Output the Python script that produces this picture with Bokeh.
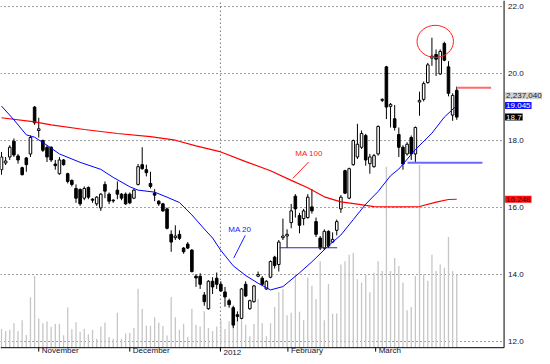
from bokeh.plotting import figure
from bokeh.models import Range1d, Label, ColumnDataSource
from bokeh.embed import file_html
from bokeh.resources import INLINE

# ---------------- data ----------------
opens = [17.13, 17.33, 17.51, 17.98, 17.54, 17.19, 17.48, 17.60, 19.00, 18.30,
         18.00, 17.80, 17.80, 17.30, 17.01, 17.42, 17.01, 16.81, 16.57, 16.54,
         16.28, 16.60, 16.25, 16.11, 15.99, 16.69, 16.40, 16.22, 16.52, 16.40,
         16.40, 16.40, 16.28, 16.69, 17.28, 17.13, 16.72, 16.43, 16.19, 16.11,
         15.96, 15.20, 15.10, 15.20, 14.79, 14.91, 14.73, 13.95, 13.95, 13.39,
         12.98, 13.80, 13.89, 13.71, 13.48, 13.22, 13.01, 12.80, 12.69, 13.71,
         12.98, 13.19, 13.95, 13.89, 13.57, 13.92, 14.52, 14.30, 15.10, 15.15,
         15.55, 16.34, 15.76, 15.67, 15.70, 16.02, 15.58, 15.09, 14.79, 15.29,
         14.97, 15.32, 15.96, 17.10, 16.28, 17.28, 17.51, 17.80, 18.15, 17.31,
         17.22, 17.60, 19.20, 20.20, 19.02, 18.65, 18.18, 17.80, 17.60, 18.09,
         17.60, 19.15, 19.23, 19.73, 20.46, 20.57, 19.99, 20.90, 20.20, 18.76,
         19.50]
highs = [17.66, 17.51, 17.86, 18.06, 17.60, 17.22, 17.51, 18.15, 19.03, 18.68,
         18.03, 17.86, 17.83, 17.42, 17.51, 17.45, 17.04, 16.84, 16.69, 16.57,
         16.63, 16.63, 16.28, 16.34, 16.43, 16.78, 16.45, 16.25, 16.78, 16.43,
         16.45, 16.45, 16.55, 17.30, 17.80, 17.28, 17.07, 16.55, 16.22, 16.14,
         16.00, 15.32, 15.47, 15.32, 14.82, 14.97, 14.76, 14.01, 14.04, 13.48,
         13.83, 13.92, 14.06, 13.80, 13.63, 13.28, 13.07, 12.90, 13.60, 13.80,
         13.25, 13.69, 14.09, 13.95, 13.83, 14.42, 14.56, 15.03, 15.67, 15.35,
         16.11, 16.40, 15.84, 15.96, 16.40, 16.55, 15.70, 15.15, 15.35, 15.32,
         15.26, 15.64, 16.37, 17.13, 17.19, 18.03, 18.50, 18.30, 18.20, 17.60,
         17.60, 18.45, 19.26, 20.23, 19.12, 19.06, 18.39, 17.86, 17.95, 18.15,
         18.42, 19.46, 19.76, 20.32, 21.07, 20.72, 20.72, 20.95, 20.37, 19.41,
         19.61]
lows = [16.98, 17.27, 17.42, 17.51, 17.31, 16.96, 17.07, 17.51, 18.47, 18.09,
        17.66, 17.36, 17.36, 17.13, 16.98, 17.25, 16.72, 16.63, 16.14, 16.05,
        16.22, 16.25, 16.14, 16.05, 15.90, 16.28, 16.10, 16.14, 16.25, 16.22,
        16.08, 16.10, 16.25, 16.66, 17.13, 16.93, 16.57, 16.19, 16.05, 15.87,
        15.35, 14.68, 15.03, 15.03, 14.62, 14.76, 14.06, 13.63, 13.57, 13.07,
        12.95, 13.42, 13.57, 13.48, 13.04, 13.01, 12.40, 12.60, 12.66, 13.33,
        12.95, 13.16, 13.92, 13.66, 13.54, 13.89, 14.18, 14.09, 15.03, 14.79,
        15.38, 15.70, 15.23, 15.47, 15.67, 15.82, 15.12, 14.73, 14.73, 14.79,
        14.94, 15.17, 15.84, 16.40, 16.25, 17.25, 17.45, 17.75, 17.25, 17.01,
        17.19, 17.55, 19.15, 18.64, 18.39, 18.30, 17.51, 17.13, 17.55, 17.42,
        17.36, 18.74, 19.17, 19.70, 20.23, 19.93, 19.96, 20.37, 19.32, 18.59,
        18.62]
closes = [17.51, 17.39, 17.80, 17.57, 17.42, 16.98, 17.28, 18.09, 18.53, 18.35,
          17.71, 17.51, 17.42, 17.25, 17.42, 17.28, 16.78, 16.69, 16.28, 16.11,
          16.57, 16.31, 16.22, 16.31, 16.40, 16.49, 16.19, 16.20, 16.40, 16.28,
          16.11, 16.14, 16.52, 17.22, 17.16, 17.04, 16.63, 16.37, 16.11, 15.90,
          15.38, 14.97, 15.15, 15.08, 14.68, 14.79, 14.09, 13.90, 13.71, 13.19,
          13.80, 13.63, 13.71, 13.51, 13.33, 13.10, 12.49, 12.75, 13.57, 13.36,
          13.22, 13.66, 14.00, 13.71, 13.80, 14.39, 14.27, 14.97, 15.15, 15.20,
          15.90, 15.96, 15.47, 15.90, 16.31, 15.90, 15.20, 14.79, 15.29, 14.85,
          15.05, 15.58, 16.31, 16.43, 17.16, 18.00, 17.89, 18.21, 17.42, 17.51,
          17.55, 18.42, 19.23, 19.00, 19.08, 18.39, 17.80, 17.30, 17.89, 17.60,
          18.39, 19.20, 19.70, 20.26, 20.52, 20.43, 20.66, 20.40, 19.41, 19.35,
          18.70]
# volume, millions of shares
volumes = [0.57, 0.51, 0.55, 0.75, 0.50, 0.84, 0.39, 1.54, 2.19, 0.89,
           0.75, 0.80, 0.64, 0.72, 0.73, 0.38, 1.23, 0.56, 0.78, 0.49,
           0.58, 0.41, 0.55, 0.27, 0.65, 0.77, 0.33, 0.27, 1.07, 0.27,
           0.43, 0.46, 0.60, 1.80, 1.19, 0.67, 0.67, 0.93, 0.77, 0.66,
           0.37, 1.55, 0.93, 0.55, 0.73, 0.33, 1.19, 0.70, 0.65, 1.11,
           0.60, 0.50, 0.65, 0.84, 0.57, 0.81, 0.95, 0.84, 0.84, 0.70,
           0.35, 0.72, 1.49, 0.75, 0.35, 0.75, 1.24, 1.69, 1.79, 0.99,
           1.07, 2.24, 1.10, 0.84, 2.14, 1.89, 1.49, 2.64, 0.84, 1.94,
           1.04, 1.04, 2.54, 2.64, 2.84, 2.89, 2.09, 1.99, 2.24, 1.69,
           2.29, 2.64, 2.34, 5.52, 2.34, 2.74, 2.49, 1.99, 1.14, 1.24,
           2.19, 5.58, 2.24, 2.04, 2.84, 2.34, 2.54, 2.44, 3.38, 2.34,
           2.23704]

ma20_idx = [0, 3, 6, 8, 11, 14, 19, 24, 27, 31, 33, 37, 40, 43, 46, 49, 51, 53,
            56, 59, 62, 65, 68, 72, 75, 79, 82, 85, 88, 91, 94, 96, 100, 104,
            107, 110]
ma20_val = [19.03, 18.62, 18.17, 18.10, 17.86, 17.60, 17.35, 17.14, 16.90, 16.62,
            16.52, 16.46, 16.31, 16.15, 15.78, 15.36, 15.09, 14.72, 14.26, 13.97,
            13.74, 13.54, 13.64, 14.05, 14.38, 14.86, 15.18, 15.64, 16.10, 16.48,
            16.95, 17.15, 17.73, 18.22, 18.70, 19.045]
ma100_idx = [0, 8, 12, 20, 28, 36, 42, 47, 53, 59, 65, 70, 74, 78, 82, 86, 90,
             95, 101, 105, 108, 110]
ma100_val = [18.68, 18.56, 18.47, 18.33, 18.21, 18.12, 18.01, 17.84, 17.66, 17.37,
             17.10, 16.81, 16.59, 16.32, 16.17, 16.10, 16.03, 16.02, 16.03, 16.16,
             16.24, 16.248]

month_idx = [9.0, 31.0, 52.9, 69.2, 90.4]
month_labels = ["November", "December", "2012", "February", "March"]
price_ticks = [12, 14, 16, 18, 20, 22]

# drawn annotations: horizontal levels and the circled top
level_x0 = [67.2, 98.1, 110.2]
level_x1 = [81.1, 116.2, 118.3]
level_y = [14.80, 17.34, 19.58]
level_color = ["#2a2aa8", "#6a6aff", "#ff6a6a"]
level_width = [1.2, 2, 2]
circle_x, circle_y, circle_w, circle_h = 104.8, 20.96, 8.8, 0.96

# ---------------- layout (whole canvas is the frame; axes drawn in it) ----------------
W, H = 542, 356
REF_W, REF_H = 550, 364          # the design is laid out on this grid, then scaled to W x H
BAR_PX = 4.2                     # design px per bar
PRICE_PX = 34.25                 # design px per price unit
MVOL_PX = 33.5                   # design px per million shares
X0 = -1 / BAR_PX
X1 = X0 + REF_W / BAR_PX
AXIS_X = X0 + 511 / BAR_PX       # price-axis line
Y1 = 22.181
Y0 = Y1 - REF_H / PRICE_PX
AXIS_Y = Y1 - 355 / PRICE_PX     # time-axis line
V0 = -(REF_H - 355) / MVOL_PX
V1 = 355 / MVOL_PX
FONT = "Liberation Sans"
GRID = "#3a3a3a"

p = figure(width=W, height=H, x_range=Range1d(X0, X1), y_range=Range1d(Y0, Y1),
           x_axis_location=None, y_axis_location=None,
           output_backend="svg", toolbar_location=None,
           min_border_left=0, min_border_top=0, min_border_right=0, min_border_bottom=0)
p.extra_y_ranges = {"vol": Range1d(V0, V1)}
p.outline_line_color = None
p.background_fill_color = "white"
p.border_fill_color = "white"
p.xgrid.grid_line_color = None
p.ygrid.grid_line_color = None

# dotted grid (stops at the price axis) + year separator
p.segment(x0=[X0] * len(price_ticks), y0=price_ticks,
          x1=[AXIS_X] * len(price_ticks), y1=price_ticks,
          line_color=GRID, line_dash="1 3", line_width=1)
p.segment(x0=[month_idx[2]], y0=[AXIS_Y], x1=[month_idx[2]], y1=[Y1],
          line_color=GRID, line_dash="1 3", line_width=1)

n = len(closes)
idx = list(range(n))

# volume
p.segment(x0=idx, y0=[0] * n, x1=idx, y1=volumes, y_range_name="vol",
          line_color="#c6c6c6", line_width=1.3)

# candles
src = ColumnDataSource(dict(
    x=idx, h=highs, l=lows,
    top=[max(o, c) for o, c in zip(opens, closes)],
    bottom=[min(o, c) for o, c in zip(opens, closes)],
    fill=["white" if c >= o else "black" for o, c in zip(opens, closes)],
))
p.segment(x0="x", y0="l", x1="x", y1="h", source=src, line_color="black", line_width=1)
p.vbar(x="x", top="top", bottom="bottom", width=0.62, fill_color="fill",
       line_color="black", line_width=1, source=src)

# moving averages
p.line(ma100_idx, ma100_val, line_color="#ff0000", line_width=1.2)
p.line(ma20_idx, ma20_val, line_color="#0000ff", line_width=1)

# levels + circle
p.segment(x0=level_x0, y0=level_y, x1=level_x1, y1=level_y,
          line_color=level_color, line_width=level_width)
p.ellipse(x=[circle_x], y=[circle_y], width=[circle_w], height=[circle_h],
          fill_color=None, line_color="#ff2020", line_width=1)

# MA labels with leader lines
p.add_layout(Label(x=74.3, y=17.61, text="MA 100", text_color="#ff2020",
                   text_font=FONT, text_font_size="8px", text_align="center",
                   text_baseline="middle"))
p.segment(x0=[74.2], y0=[17.36], x1=[70.4], y1=[16.87], line_color="#ff2020", line_width=1)
p.add_layout(Label(x=57.6, y=15.33, text="MA 20", text_color="#2020ff",
                   text_font=FONT, text_font_size="8px", text_align="center",
                   text_baseline="middle"))
p.segment(x0=[58.9], y0=[15.17], x1=[56.1], y1=[14.49], line_color="#2020ff", line_width=1)

# axes lines and ticks
p.segment(x0=[AXIS_X], y0=[AXIS_Y], x1=[AXIS_X], y1=[Y1], line_color="black", line_width=1)
p.segment(x0=[X0], y0=[AXIS_Y], x1=[AXIS_X], y1=[AXIS_Y], line_color="black", line_width=1)
tick_len = 4 / PRICE_PX
p.segment(x0=month_idx, y0=[AXIS_Y] * len(month_idx), x1=month_idx,
          y1=[AXIS_Y - tick_len] * len(month_idx), line_color="black", line_width=1)

# tick labels (month names hang just under the time axis)
label_y = Y0 + 1.2 / PRICE_PX
for m, t in zip(month_idx, month_labels):
    p.add_layout(Label(x=m, y=label_y, text=t, x_offset=3, text_align="left",
                       text_baseline="bottom", text_font=FONT,
                       text_font_size="8px", text_color="#101030"))
for t in price_ticks:
    p.add_layout(Label(x=AXIS_X, y=t, text="{:.1f}".format(t), x_offset=4,
                       text_align="left", text_baseline="middle", text_font=FONT,
                       text_font_size="8px", text_color="#101030"))

# value tags on the price axis
vol_tag_y = ma20_val[-1] + 10 / PRICE_PX
tags = [
    (vol_tag_y, "{:,}".format(int(round(volumes[-1] * 1e6))), "#d2d2d2", "#202020"),
    (ma20_val[-1], "{:.3f}".format(ma20_val[-1]), "#1010ff", "white"),
    (closes[-1], "{:.1f}".format(closes[-1]), "black", "white"),
    (ma100_val[-1], "{:.3f}".format(ma100_val[-1]), "#ff1010", "#400000"),
]
for ty, tt, bg, fg in tags:
    p.add_layout(Label(x=AXIS_X, y=ty, text=tt, x_offset=1, text_align="left",
                       text_baseline="middle", text_font=FONT, text_font_size="8px",
                       text_color=fg, background_fill_color=bg, padding=1))

open("out.html", "w").write(file_html(p, INLINE))
